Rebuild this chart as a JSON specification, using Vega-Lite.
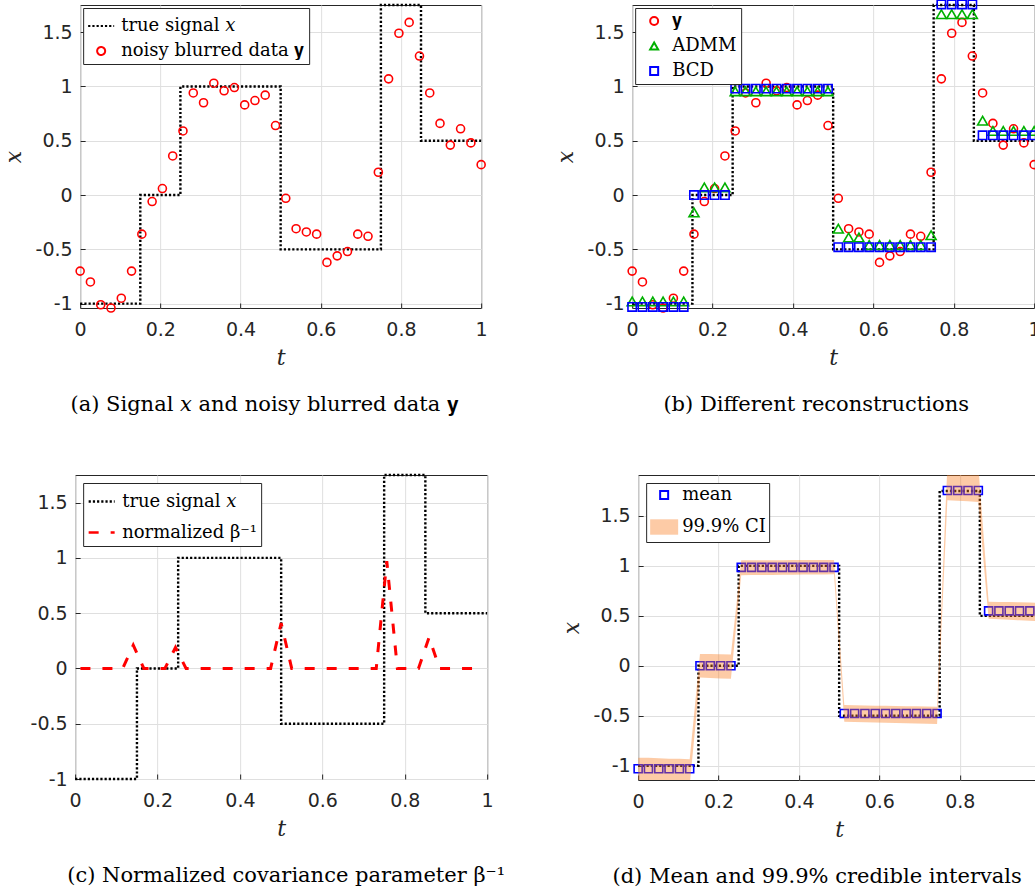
{
  "$schema": "https://vega.github.io/schema/vega-lite/v6.json",
  "background": "white",
  "padding": {"left": 1, "top": -4, "right": 0, "bottom": 0},
  "datasets": {
    "truth": [
      {"t": 0, "v": -1, "k": 0, "s": "true signal 𝑥"},
      {"t": 0.15, "v": -1, "k": 1, "s": "true signal 𝑥"},
      {"t": 0.15, "v": 0, "k": 2, "s": "true signal 𝑥"},
      {"t": 0.25, "v": 0, "k": 3, "s": "true signal 𝑥"},
      {"t": 0.25, "v": 1, "k": 4, "s": "true signal 𝑥"},
      {"t": 0.5, "v": 1, "k": 5, "s": "true signal 𝑥"},
      {"t": 0.5, "v": -0.5, "k": 6, "s": "true signal 𝑥"},
      {"t": 0.75, "v": -0.5, "k": 7, "s": "true signal 𝑥"},
      {"t": 0.75, "v": 1.75, "k": 8, "s": "true signal 𝑥"},
      {"t": 0.85, "v": 1.75, "k": 9, "s": "true signal 𝑥"},
      {"t": 0.85, "v": 0.5, "k": 10, "s": "true signal 𝑥"},
      {"t": 1, "v": 0.5, "k": 11, "s": "true signal 𝑥"}
    ],
    "ydata": [
      {"t": 0, "v": -0.70, "s": "noisy blurred data 𝐲", "sb": "𝐲"},
      {"t": 0.0256, "v": -0.80, "s": "noisy blurred data 𝐲", "sb": "𝐲"},
      {"t": 0.0513, "v": -1.01, "s": "noisy blurred data 𝐲", "sb": "𝐲"},
      {"t": 0.0769, "v": -1.04, "s": "noisy blurred data 𝐲", "sb": "𝐲"},
      {"t": 0.1026, "v": -0.95, "s": "noisy blurred data 𝐲", "sb": "𝐲"},
      {"t": 0.1282, "v": -0.70, "s": "noisy blurred data 𝐲", "sb": "𝐲"},
      {"t": 0.1538, "v": -0.36, "s": "noisy blurred data 𝐲", "sb": "𝐲"},
      {"t": 0.1795, "v": -0.06, "s": "noisy blurred data 𝐲", "sb": "𝐲"},
      {"t": 0.2051, "v": 0.06, "s": "noisy blurred data 𝐲", "sb": "𝐲"},
      {"t": 0.2308, "v": 0.36, "s": "noisy blurred data 𝐲", "sb": "𝐲"},
      {"t": 0.2564, "v": 0.59, "s": "noisy blurred data 𝐲", "sb": "𝐲"},
      {"t": 0.2821, "v": 0.94, "s": "noisy blurred data 𝐲", "sb": "𝐲"},
      {"t": 0.3077, "v": 0.85, "s": "noisy blurred data 𝐲", "sb": "𝐲"},
      {"t": 0.3333, "v": 1.03, "s": "noisy blurred data 𝐲", "sb": "𝐲"},
      {"t": 0.359, "v": 0.96, "s": "noisy blurred data 𝐲", "sb": "𝐲"},
      {"t": 0.3846, "v": 0.99, "s": "noisy blurred data 𝐲", "sb": "𝐲"},
      {"t": 0.4103, "v": 0.83, "s": "noisy blurred data 𝐲", "sb": "𝐲"},
      {"t": 0.4359, "v": 0.87, "s": "noisy blurred data 𝐲", "sb": "𝐲"},
      {"t": 0.4615, "v": 0.92, "s": "noisy blurred data 𝐲", "sb": "𝐲"},
      {"t": 0.4872, "v": 0.64, "s": "noisy blurred data 𝐲", "sb": "𝐲"},
      {"t": 0.5128, "v": -0.03, "s": "noisy blurred data 𝐲", "sb": "𝐲"},
      {"t": 0.5385, "v": -0.31, "s": "noisy blurred data 𝐲", "sb": "𝐲"},
      {"t": 0.5641, "v": -0.34, "s": "noisy blurred data 𝐲", "sb": "𝐲"},
      {"t": 0.5897, "v": -0.36, "s": "noisy blurred data 𝐲", "sb": "𝐲"},
      {"t": 0.6154, "v": -0.62, "s": "noisy blurred data 𝐲", "sb": "𝐲"},
      {"t": 0.641, "v": -0.56, "s": "noisy blurred data 𝐲", "sb": "𝐲"},
      {"t": 0.6667, "v": -0.52, "s": "noisy blurred data 𝐲", "sb": "𝐲"},
      {"t": 0.6923, "v": -0.36, "s": "noisy blurred data 𝐲", "sb": "𝐲"},
      {"t": 0.7179, "v": -0.38, "s": "noisy blurred data 𝐲", "sb": "𝐲"},
      {"t": 0.7436, "v": 0.21, "s": "noisy blurred data 𝐲", "sb": "𝐲"},
      {"t": 0.7692, "v": 1.07, "s": "noisy blurred data 𝐲", "sb": "𝐲"},
      {"t": 0.7949, "v": 1.49, "s": "noisy blurred data 𝐲", "sb": "𝐲"},
      {"t": 0.8205, "v": 1.59, "s": "noisy blurred data 𝐲", "sb": "𝐲"},
      {"t": 0.8462, "v": 1.28, "s": "noisy blurred data 𝐲", "sb": "𝐲"},
      {"t": 0.8718, "v": 0.94, "s": "noisy blurred data 𝐲", "sb": "𝐲"},
      {"t": 0.8974, "v": 0.66, "s": "noisy blurred data 𝐲", "sb": "𝐲"},
      {"t": 0.9231, "v": 0.46, "s": "noisy blurred data 𝐲", "sb": "𝐲"},
      {"t": 0.9487, "v": 0.61, "s": "noisy blurred data 𝐲", "sb": "𝐲"},
      {"t": 0.9744, "v": 0.48, "s": "noisy blurred data 𝐲", "sb": "𝐲"},
      {"t": 1, "v": 0.28, "s": "noisy blurred data 𝐲", "sb": "𝐲"}
    ],
    "admm": [
      {"t": 0, "v": -0.98, "s": "ADMM"}, {"t": 0.0256, "v": -0.98, "s": "ADMM"}, {"t": 0.0513, "v": -0.98, "s": "ADMM"},
      {"t": 0.0769, "v": -0.98, "s": "ADMM"}, {"t": 0.1026, "v": -0.98, "s": "ADMM"}, {"t": 0.1282, "v": -0.98, "s": "ADMM"},
      {"t": 0.1538, "v": -0.16, "s": "ADMM"}, {"t": 0.1795, "v": 0.07, "s": "ADMM"}, {"t": 0.2051, "v": 0.07, "s": "ADMM"},
      {"t": 0.2308, "v": 0.07, "s": "ADMM"}, {"t": 0.2564, "v": 0.955, "s": "ADMM"}, {"t": 0.2821, "v": 0.955, "s": "ADMM"},
      {"t": 0.3077, "v": 0.955, "s": "ADMM"}, {"t": 0.3333, "v": 0.955, "s": "ADMM"}, {"t": 0.359, "v": 0.955, "s": "ADMM"},
      {"t": 0.3846, "v": 0.955, "s": "ADMM"}, {"t": 0.4103, "v": 0.955, "s": "ADMM"}, {"t": 0.4359, "v": 0.955, "s": "ADMM"},
      {"t": 0.4615, "v": 0.955, "s": "ADMM"}, {"t": 0.4872, "v": 0.955, "s": "ADMM"}, {"t": 0.5128, "v": -0.31, "s": "ADMM"},
      {"t": 0.5385, "v": -0.39, "s": "ADMM"}, {"t": 0.5641, "v": -0.39, "s": "ADMM"}, {"t": 0.5897, "v": -0.46, "s": "ADMM"},
      {"t": 0.6154, "v": -0.46, "s": "ADMM"}, {"t": 0.641, "v": -0.46, "s": "ADMM"}, {"t": 0.6667, "v": -0.46, "s": "ADMM"},
      {"t": 0.6923, "v": -0.46, "s": "ADMM"}, {"t": 0.7179, "v": -0.46, "s": "ADMM"}, {"t": 0.7436, "v": -0.37, "s": "ADMM"},
      {"t": 0.7692, "v": 1.665, "s": "ADMM"}, {"t": 0.7949, "v": 1.665, "s": "ADMM"}, {"t": 0.8205, "v": 1.665, "s": "ADMM"},
      {"t": 0.8462, "v": 1.665, "s": "ADMM"}, {"t": 0.8718, "v": 0.685, "s": "ADMM"}, {"t": 0.8974, "v": 0.59, "s": "ADMM"},
      {"t": 0.9231, "v": 0.59, "s": "ADMM"}, {"t": 0.9487, "v": 0.59, "s": "ADMM"}, {"t": 0.9744, "v": 0.59, "s": "ADMM"},
      {"t": 1, "v": 0.59, "s": "ADMM"}
    ],
    "bcd": [
      {"t": 0, "v": -1.03, "s": "BCD"}, {"t": 0.0256, "v": -1.03, "s": "BCD"}, {"t": 0.0513, "v": -1.03, "s": "BCD"},
      {"t": 0.0769, "v": -1.03, "s": "BCD"}, {"t": 0.1026, "v": -1.03, "s": "BCD"}, {"t": 0.1282, "v": -1.03, "s": "BCD"},
      {"t": 0.1538, "v": 0, "s": "BCD"}, {"t": 0.1795, "v": 0, "s": "BCD"}, {"t": 0.2051, "v": 0, "s": "BCD"},
      {"t": 0.2308, "v": 0, "s": "BCD"}, {"t": 0.2564, "v": 0.98, "s": "BCD"}, {"t": 0.2821, "v": 0.98, "s": "BCD"},
      {"t": 0.3077, "v": 0.98, "s": "BCD"}, {"t": 0.3333, "v": 0.98, "s": "BCD"}, {"t": 0.359, "v": 0.98, "s": "BCD"},
      {"t": 0.3846, "v": 0.98, "s": "BCD"}, {"t": 0.4103, "v": 0.98, "s": "BCD"}, {"t": 0.4359, "v": 0.98, "s": "BCD"},
      {"t": 0.4615, "v": 0.98, "s": "BCD"}, {"t": 0.4872, "v": 0.98, "s": "BCD"}, {"t": 0.5128, "v": -0.48, "s": "BCD"},
      {"t": 0.5385, "v": -0.48, "s": "BCD"}, {"t": 0.5641, "v": -0.48, "s": "BCD"}, {"t": 0.5897, "v": -0.48, "s": "BCD"},
      {"t": 0.6154, "v": -0.48, "s": "BCD"}, {"t": 0.641, "v": -0.48, "s": "BCD"}, {"t": 0.6667, "v": -0.48, "s": "BCD"},
      {"t": 0.6923, "v": -0.48, "s": "BCD"}, {"t": 0.7179, "v": -0.48, "s": "BCD"}, {"t": 0.7436, "v": -0.48, "s": "BCD"},
      {"t": 0.7692, "v": 1.755, "s": "BCD"}, {"t": 0.7949, "v": 1.755, "s": "BCD"}, {"t": 0.8205, "v": 1.755, "s": "BCD"},
      {"t": 0.8462, "v": 1.755, "s": "BCD"}, {"t": 0.8718, "v": 0.55, "s": "BCD"}, {"t": 0.8974, "v": 0.55, "s": "BCD"},
      {"t": 0.9231, "v": 0.55, "s": "BCD"}, {"t": 0.9487, "v": 0.55, "s": "BCD"}, {"t": 0.9744, "v": 0.55, "s": "BCD"},
      {"t": 1, "v": 0.55, "s": "BCD"}
    ],
    "beta": [
      {"t": 0.0128, "v": 0, "s": "normalized β⁻¹"}, {"t": 0.0385, "v": 0, "s": "normalized β⁻¹"}, {"t": 0.0641, "v": 0, "s": "normalized β⁻¹"},
      {"t": 0.0897, "v": 0, "s": "normalized β⁻¹"}, {"t": 0.1154, "v": 0, "s": "normalized β⁻¹"}, {"t": 0.141, "v": 0.21, "s": "normalized β⁻¹"},
      {"t": 0.1667, "v": 0, "s": "normalized β⁻¹"}, {"t": 0.1923, "v": 0, "s": "normalized β⁻¹"}, {"t": 0.2179, "v": 0, "s": "normalized β⁻¹"},
      {"t": 0.2436, "v": 0.19, "s": "normalized β⁻¹"}, {"t": 0.2692, "v": 0, "s": "normalized β⁻¹"}, {"t": 0.2949, "v": 0, "s": "normalized β⁻¹"},
      {"t": 0.3205, "v": 0, "s": "normalized β⁻¹"}, {"t": 0.3462, "v": 0, "s": "normalized β⁻¹"}, {"t": 0.3718, "v": 0, "s": "normalized β⁻¹"},
      {"t": 0.3974, "v": 0, "s": "normalized β⁻¹"}, {"t": 0.4231, "v": 0, "s": "normalized β⁻¹"}, {"t": 0.4487, "v": 0, "s": "normalized β⁻¹"},
      {"t": 0.4744, "v": 0, "s": "normalized β⁻¹"}, {"t": 0.5, "v": 0.41, "s": "normalized β⁻¹"}, {"t": 0.5256, "v": 0, "s": "normalized β⁻¹"},
      {"t": 0.5513, "v": 0, "s": "normalized β⁻¹"}, {"t": 0.5769, "v": 0, "s": "normalized β⁻¹"}, {"t": 0.6026, "v": 0, "s": "normalized β⁻¹"},
      {"t": 0.6282, "v": 0, "s": "normalized β⁻¹"}, {"t": 0.6538, "v": 0, "s": "normalized β⁻¹"}, {"t": 0.6795, "v": 0, "s": "normalized β⁻¹"},
      {"t": 0.7051, "v": 0, "s": "normalized β⁻¹"}, {"t": 0.7308, "v": 0, "s": "normalized β⁻¹"}, {"t": 0.7564, "v": 0.97, "s": "normalized β⁻¹"},
      {"t": 0.7821, "v": 0, "s": "normalized β⁻¹"}, {"t": 0.8077, "v": 0, "s": "normalized β⁻¹"}, {"t": 0.8333, "v": 0, "s": "normalized β⁻¹"},
      {"t": 0.859, "v": 0.28, "s": "normalized β⁻¹"}, {"t": 0.8846, "v": 0, "s": "normalized β⁻¹"}, {"t": 0.9103, "v": 0, "s": "normalized β⁻¹"},
      {"t": 0.9359, "v": 0, "s": "normalized β⁻¹"}, {"t": 0.9615, "v": 0, "s": "normalized β⁻¹"}, {"t": 0.9872, "v": 0, "s": "normalized β⁻¹"}
    ],
    "mean": [
      {"t": 0, "v": -1.03, "s": "mean"}, {"t": 0.0256, "v": -1.03, "s": "mean"}, {"t": 0.0513, "v": -1.03, "s": "mean"},
      {"t": 0.0769, "v": -1.03, "s": "mean"}, {"t": 0.1026, "v": -1.03, "s": "mean"}, {"t": 0.1282, "v": -1.03, "s": "mean"},
      {"t": 0.1538, "v": 0, "s": "mean"}, {"t": 0.1795, "v": 0, "s": "mean"}, {"t": 0.2051, "v": 0, "s": "mean"},
      {"t": 0.2308, "v": 0, "s": "mean"}, {"t": 0.2564, "v": 0.985, "s": "mean"}, {"t": 0.2821, "v": 0.985, "s": "mean"},
      {"t": 0.3077, "v": 0.985, "s": "mean"}, {"t": 0.3333, "v": 0.985, "s": "mean"}, {"t": 0.359, "v": 0.985, "s": "mean"},
      {"t": 0.3846, "v": 0.985, "s": "mean"}, {"t": 0.4103, "v": 0.985, "s": "mean"}, {"t": 0.4359, "v": 0.985, "s": "mean"},
      {"t": 0.4615, "v": 0.985, "s": "mean"}, {"t": 0.4872, "v": 0.985, "s": "mean"}, {"t": 0.5128, "v": -0.478, "s": "mean"},
      {"t": 0.5385, "v": -0.478, "s": "mean"}, {"t": 0.5641, "v": -0.478, "s": "mean"}, {"t": 0.5897, "v": -0.478, "s": "mean"},
      {"t": 0.6154, "v": -0.478, "s": "mean"}, {"t": 0.641, "v": -0.478, "s": "mean"}, {"t": 0.6667, "v": -0.478, "s": "mean"},
      {"t": 0.6923, "v": -0.478, "s": "mean"}, {"t": 0.7179, "v": -0.478, "s": "mean"}, {"t": 0.7436, "v": -0.478, "s": "mean"},
      {"t": 0.7692, "v": 1.755, "s": "mean"}, {"t": 0.7949, "v": 1.755, "s": "mean"}, {"t": 0.8205, "v": 1.755, "s": "mean"},
      {"t": 0.8462, "v": 1.755, "s": "mean"}, {"t": 0.8718, "v": 0.55, "s": "mean"}, {"t": 0.8974, "v": 0.55, "s": "mean"},
      {"t": 0.9231, "v": 0.55, "s": "mean"}, {"t": 0.9487, "v": 0.55, "s": "mean"}, {"t": 0.9744, "v": 0.55, "s": "mean"},
      {"t": 1, "v": 0.55, "s": "mean"}
    ],
    "ci": [
      {"t": 0, "lo": -1.2, "hi": -0.92, "s": "99.9% CI"}, {"t": 0.0256, "lo": -1.2, "hi": -0.92, "s": "99.9% CI"},
      {"t": 0.0513, "lo": -1.2, "hi": -0.925, "s": "99.9% CI"}, {"t": 0.0769, "lo": -1.2, "hi": -0.93, "s": "99.9% CI"},
      {"t": 0.1026, "lo": -1.2, "hi": -0.93, "s": "99.9% CI"}, {"t": 0.1282, "lo": -1.2, "hi": -0.935, "s": "99.9% CI"},
      {"t": 0.1538, "lo": -0.118, "hi": 0.117, "s": "99.9% CI"}, {"t": 0.1795, "lo": -0.122, "hi": 0.117, "s": "99.9% CI"},
      {"t": 0.2051, "lo": -0.126, "hi": 0.115, "s": "99.9% CI"}, {"t": 0.2308, "lo": -0.13, "hi": 0.112, "s": "99.9% CI"},
      {"t": 0.2564, "lo": 0.907, "hi": 1.057, "s": "99.9% CI"}, {"t": 0.2821, "lo": 0.908, "hi": 1.057, "s": "99.9% CI"},
      {"t": 0.3077, "lo": 0.909, "hi": 1.056, "s": "99.9% CI"}, {"t": 0.3333, "lo": 0.91, "hi": 1.056, "s": "99.9% CI"},
      {"t": 0.359, "lo": 0.911, "hi": 1.057, "s": "99.9% CI"}, {"t": 0.3846, "lo": 0.912, "hi": 1.058, "s": "99.9% CI"},
      {"t": 0.4103, "lo": 0.913, "hi": 1.058, "s": "99.9% CI"}, {"t": 0.4359, "lo": 0.914, "hi": 1.059, "s": "99.9% CI"},
      {"t": 0.4615, "lo": 0.915, "hi": 1.06, "s": "99.9% CI"}, {"t": 0.4872, "lo": 0.916, "hi": 1.06, "s": "99.9% CI"},
      {"t": 0.5128, "lo": -0.56, "hi": -0.393, "s": "99.9% CI"}, {"t": 0.5385, "lo": -0.563, "hi": -0.395, "s": "99.9% CI"},
      {"t": 0.5641, "lo": -0.565, "hi": -0.397, "s": "99.9% CI"}, {"t": 0.5897, "lo": -0.567, "hi": -0.399, "s": "99.9% CI"},
      {"t": 0.6154, "lo": -0.57, "hi": -0.401, "s": "99.9% CI"}, {"t": 0.641, "lo": -0.572, "hi": -0.403, "s": "99.9% CI"},
      {"t": 0.6667, "lo": -0.575, "hi": -0.405, "s": "99.9% CI"}, {"t": 0.6923, "lo": -0.577, "hi": -0.406, "s": "99.9% CI"},
      {"t": 0.7179, "lo": -0.58, "hi": -0.408, "s": "99.9% CI"}, {"t": 0.7436, "lo": -0.583, "hi": -0.41, "s": "99.9% CI"},
      {"t": 0.7692, "lo": 1.657, "hi": 2.0, "s": "99.9% CI"}, {"t": 0.7949, "lo": 1.652, "hi": 2.0, "s": "99.9% CI"},
      {"t": 0.8205, "lo": 1.646, "hi": 2.0, "s": "99.9% CI"}, {"t": 0.8462, "lo": 1.64, "hi": 2.0, "s": "99.9% CI"},
      {"t": 0.8718, "lo": 0.47, "hi": 0.642, "s": "99.9% CI"}, {"t": 0.8974, "lo": 0.465, "hi": 0.64, "s": "99.9% CI"},
      {"t": 0.9231, "lo": 0.46, "hi": 0.638, "s": "99.9% CI"}, {"t": 0.9487, "lo": 0.455, "hi": 0.636, "s": "99.9% CI"},
      {"t": 0.9744, "lo": 0.45, "hi": 0.633, "s": "99.9% CI"}, {"t": 1, "lo": 0.445, "hi": 0.63, "s": "99.9% CI"}
    ]
  },
  "vconcat": [
    {
      "hconcat": [
        {
          "width": 401, "height": 303,
          "title": {"text": "(a) Signal 𝑥 and noisy blurred data 𝐲", "dx": -16},
          "layer": [
            {
              "data": {"name": "truth"},
              "mark": {"type": "line", "strokeWidth": 2.4, "strokeCap": "butt"},
              "encoding": {
                "x": {"field": "t", "type": "quantitative", "scale": {"domain": [0, 1], "nice": false, "zero": false}, "axis": {"title": "t", "values": [0, 0.2, 0.4, 0.6, 0.8, 1]}},
                "y": {"field": "v", "type": "quantitative", "scale": {"domain": [-1.04, 1.75], "nice": false, "zero": false}, "axis": {"title": "x", "values": [-1, -0.5, 0, 0.5, 1, 1.5]}},
                "order": {"field": "k"},
                "color": {"field": "s", "type": "nominal", "title": null, "scale": {"domain": ["true signal 𝑥", "noisy blurred data 𝐲"], "range": ["#000000", "#ff0000"]}, "legend": {"offset": 3, "padding": 4, "labelOffset": 6}},
                "strokeDash": {"field": "s", "type": "nominal", "title": null, "scale": {"domain": ["true signal 𝑥", "noisy blurred data 𝐲"], "range": [[2.2, 2], [1, 0]]}}
              }
            },
            {
              "data": {"name": "ydata"},
              "mark": {"type": "point", "filled": false, "strokeWidth": 1.6, "opacity": 1},
              "encoding": {
                "x": {"field": "t", "type": "quantitative"},
                "y": {"field": "v", "type": "quantitative"},
                "color": {"field": "s", "type": "nominal", "title": null},
                "shape": {"field": "s", "type": "nominal", "title": null, "scale": {"domain": ["true signal 𝑥", "noisy blurred data 𝐲"], "range": ["stroke", "circle"]}},
                "size": {"field": "s", "type": "nominal", "title": null, "scale": {"domain": ["true signal 𝑥", "noisy blurred data 𝐲"], "range": [676, 64]}}
              }
            }
          ]
        },
        {
          "width": 402, "height": 303,
          "title": {"text": "(b) Different reconstructions", "dx": -17},
          "layer": [
            {
              "data": {"name": "truth"},
              "mark": {"type": "line", "strokeWidth": 2.4, "strokeCap": "butt", "color": "black", "strokeDash": [2.2, 2]},
              "encoding": {
                "x": {"field": "t", "type": "quantitative", "scale": {"domain": [0, 1], "nice": false, "zero": false}, "axis": {"title": "t", "values": [0, 0.2, 0.4, 0.6, 0.8, 1]}},
                "y": {"field": "v", "type": "quantitative", "scale": {"domain": [-1.04, 1.75], "nice": false, "zero": false}, "axis": {"title": "x", "values": [-1, -0.5, 0, 0.5, 1, 1.5]}},
                "order": {"field": "k"}
              }
            },
            {
              "data": {"name": "ydata"},
              "mark": {"type": "point", "filled": false, "strokeWidth": 1.6, "size": 64, "opacity": 1},
              "encoding": {
                "x": {"field": "t", "type": "quantitative"},
                "y": {"field": "v", "type": "quantitative"},
                "color": {"field": "sb", "type": "nominal", "title": null, "scale": {"domain": ["𝐲", "ADMM", "BCD"], "range": ["#ff0000", "#00b000", "#0000ff"]}, "legend": {"offset": 3, "padding": 4, "symbolOffset": 6, "labelOffset": 9}},
                "shape": {"field": "sb", "type": "nominal", "title": null, "scale": {"domain": ["𝐲", "ADMM", "BCD"], "range": ["circle", "triangle-up", "square"]}}
              }
            },
            {
              "data": {"name": "admm"},
              "mark": {"type": "point", "filled": false, "strokeWidth": 1.6, "size": 100, "opacity": 1},
              "encoding": {
                "x": {"field": "t", "type": "quantitative"},
                "y": {"field": "v", "type": "quantitative"},
                "color": {"field": "s", "type": "nominal", "title": null},
                "shape": {"field": "s", "type": "nominal", "title": null}
              }
            },
            {
              "data": {"name": "bcd"},
              "mark": {"type": "point", "filled": false, "strokeWidth": 1.6, "size": 70, "opacity": 1},
              "encoding": {
                "x": {"field": "t", "type": "quantitative"},
                "y": {"field": "v", "type": "quantitative"},
                "color": {"field": "s", "type": "nominal", "title": null},
                "shape": {"field": "s", "type": "nominal", "title": null}
              }
            }
          ]
        }
      ],
      "spacing": 64,
      "resolve": {
        "scale": {"x": "independent", "y": "independent", "color": "independent", "fill": "independent", "stroke": "independent", "shape": "independent", "size": "independent", "strokeDash": "independent"}
      }
    },
    {
      "hconcat": [
        {
          "width": 412, "height": 304,
          "title": {"text": "(c) Normalized covariance parameter β⁻¹", "dx": 5},
          "layer": [
            {
              "data": {"name": "truth"},
              "mark": {"type": "line", "strokeWidth": 2.4, "strokeCap": "butt"},
              "encoding": {
                "x": {"field": "t", "type": "quantitative", "scale": {"domain": [0, 1], "nice": false, "zero": false}, "axis": {"title": "t", "values": [0, 0.2, 0.4, 0.6, 0.8, 1]}},
                "y": {"field": "v", "type": "quantitative", "scale": {"domain": [-1, 1.75], "nice": false, "zero": false}, "axis": {"title": "x", "titleOpacity": 0, "titleFontSize": 1, "titleX": -68, "titleY": 150, "values": [-1, -0.5, 0, 0.5, 1, 1.5]}},
                "order": {"field": "k"},
                "color": {"field": "s", "type": "nominal", "title": null, "scale": {"domain": ["true signal 𝑥", "normalized β⁻¹"], "range": ["#000000", "#ff0000"]}, "legend": {"offset": 8, "padding": 4, "labelOffset": 6, "symbolSize": 676, "symbolType": "stroke", "symbolStrokeWidth": 2.6}},
                "strokeDash": {"field": "s", "type": "nominal", "title": null, "scale": {"domain": ["true signal 𝑥", "normalized β⁻¹"], "range": [[2.2, 2], [10, 12]]}}
              }
            },
            {
              "data": {"name": "beta"},
              "mark": {"type": "line", "strokeWidth": 3, "strokeCap": "butt"},
              "encoding": {
                "x": {"field": "t", "type": "quantitative"},
                "y": {"field": "v", "type": "quantitative"},
                "color": {"field": "s", "type": "nominal", "title": null},
                "strokeDash": {"field": "s", "type": "nominal", "title": null}
              }
            }
          ]
        },
        {
          "width": 402, "height": 305,
          "title": {"text": "(d) Mean and 99.9% credible intervals", "dx": -22},
          "layer": [
            {
              "data": {"name": "truth"},
              "mark": {"type": "line", "strokeWidth": 2.4, "strokeCap": "butt", "color": "black", "strokeDash": [2.2, 2]},
              "encoding": {
                "x": {"field": "t", "type": "quantitative", "scale": {"domain": [0, 1], "nice": false, "zero": false}, "axis": {"title": "t", "values": [0, 0.2, 0.4, 0.6, 0.8, 1]}},
                "y": {"field": "v", "type": "quantitative", "scale": {"domain": [-1.143, 1.91], "nice": false, "zero": false}, "axis": {"title": "x", "values": [-1, -0.5, 0, 0.5, 1, 1.5]}},
                "order": {"field": "k"}
              }
            },
            {
              "data": {"name": "mean"},
              "mark": {"type": "point", "filled": true, "strokeWidth": 1.6, "opacity": 1},
              "encoding": {
                "x": {"field": "t", "type": "quantitative"},
                "y": {"field": "v", "type": "quantitative"},
                "fill": {"field": "s", "type": "nominal", "title": null, "scale": {"domain": ["mean", "99.9% CI"], "range": ["transparent", "rgba(250,125,32,0.4)"]}, "legend": {"offset": 8, "padding": 3, "labelOffset": 3, "rowPadding": 8}},
                "stroke": {"field": "s", "type": "nominal", "title": null, "scale": {"domain": ["mean", "99.9% CI"], "range": ["#0000ff", "transparent"]}},
                "shape": {"field": "s", "type": "nominal", "title": null, "scale": {"domain": ["mean", "99.9% CI"], "range": ["square", "M-1,-0.55H1V0.55H-1Z"]}},
                "size": {"field": "s", "type": "nominal", "title": null, "scale": {"domain": ["mean", "99.9% CI"], "range": [64, 784]}}
              }
            },
            {
              "data": {"name": "ci"},
              "mark": {"type": "area", "clip": true},
              "encoding": {
                "x": {"field": "t", "type": "quantitative"},
                "y": {"field": "lo", "type": "quantitative"},
                "y2": {"field": "hi"},
                "fill": {"field": "s", "type": "nominal", "title": null}
              }
            }
          ]
        }
      ],
      "spacing": 53,
      "resolve": {
        "scale": {"x": "independent", "y": "independent", "color": "independent", "fill": "independent", "stroke": "independent", "shape": "independent", "size": "independent", "strokeDash": "independent"}
      }
    }
  ],
  "spacing": 53,
  "center": true,
  "resolve": {
    "scale": {"x": "independent", "y": "independent", "color": "independent", "fill": "independent", "stroke": "independent", "shape": "independent", "size": "independent", "strokeDash": "independent"}
  },
  "config": {
    "view": {"stroke": "#262626", "strokeWidth": 1},
    "axis": {
      "domain": false, "grid": true, "gridColor": "#dfdfdf", "gridWidth": 1,
      "ticks": true, "tickColor": "#262626", "tickSize": -5, "tickWidth": 1,
      "labelFont": "DejaVu Sans", "labelFontSize": 19, "labelColor": "#262626",
      "labelFlush": false, "labelOverlap": false, "labelExpr": "'' + datum.value",
      "titleFont": "DejaVu Serif", "titleFontStyle": "italic", "titleFontWeight": "normal",
      "titleFontSize": 22, "titleColor": "#262626"
    },
    "axisX": {"labelPadding": 17, "titlePadding": 8},
    "axisY": {"labelPadding": 13, "titlePadding": 10},
    "legend": {
      "orient": "top-left", "fillColor": "white", "strokeColor": "#262626",
      "labelFont": "DejaVu Serif", "labelFontSize": 18, "labelColor": "black", "labelLimit": 500,
      "symbolSize": 64, "symbolStrokeWidth": 2, "symbolFillColor": "transparent",
      "rowPadding": 7, "cornerRadius": 0
    },
    "title": {
      "font": "DejaVu Serif", "fontSize": 21, "fontWeight": "normal", "color": "black",
      "orient": "bottom", "anchor": "middle", "frame": "group", "offset": 26
    }
  }
}
